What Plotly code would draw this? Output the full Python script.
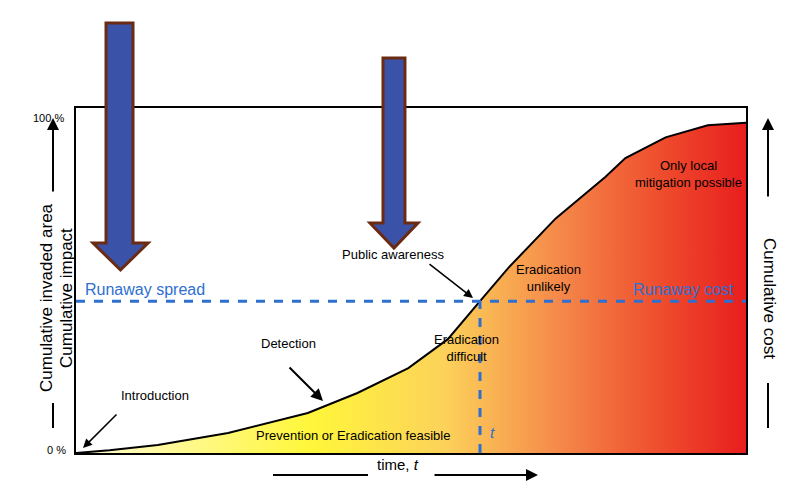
import plotly.graph_objects as go

# curve: time (0-100) vs cumulative impact (%)
time = [0, 5, 12.2, 22.7, 34.6, 42, 49.6, 55.5, 60.3, 64.5, 71.6, 79, 82, 88, 94.3, 100]
impact = [0, 0.8, 2.3, 5.8, 11.6, 17.4, 24.6, 33, 44, 53.6, 68, 80, 85.5, 91.5, 95, 95.7]
runaway_level = 44
runaway_time = 60.3

W, H = 800, 493
L, R, T, B = 68, 62, 100, 48
PW, PH = W - L - R, H - T - B


def px(x, y):
    return (x - L) / PW, (H - B - y) / PH


def path(pts):
    p = [px(x, y) for x, y in pts]
    return "M " + " L ".join(f"{a:.4f},{b:.4f}" for a, b in p) + " Z"


fig = go.Figure()
fig.add_trace(go.Scatter(
    x=time, y=impact, mode="lines", line=dict(color="black", width=2),
    fill="tozeroy",
    fillgradient=dict(type="horizontal", colorscale=[
        [0, "#fffbd8"], [0.35, "#fff63a"], [0.55, "#fcd25a"],
        [0.72, "#f5894a"], [0.88, "#ee4a2c"], [1, "#e81e1e"]]),
    hoverinfo="skip"))
fig.add_trace(go.Scatter(x=[0, 100], y=[runaway_level] * 2, mode="lines",
                         line=dict(color="#2e6fd0", width=3, dash="dash")))
fig.add_trace(go.Scatter(x=[runaway_time] * 2, y=[0, runaway_level], mode="lines",
                         line=dict(color="#2e6fd0", width=3, dash="dash")))

shapes = []
for sx0, sx1, sy0, sy1, hx0, hx1, tip in [(98, 125, 15, 235, 85, 140, 262),
                                          (375, 397, 50, 215, 362, 410, 240)]:
    cx = (hx0 + hx1) / 2
    shapes.append(dict(type="path", xref="paper", yref="paper",
                       path=path([(sx0, sy0), (sx1, sy0), (sx1, sy1), (hx1, sy1),
                                  (cx, tip), (hx0, sy1), (sx0, sy1)]),
                       fillcolor="#3a52a8", line=dict(color="#6b2a12", width=3)))
# side and bottom lines
for x0, y0, x1, y1 in [(760, 375, 760, 420), (265, 467, 360, 467), (45, 395, 45, 420)]:
    a, b = px(x0, y0)
    c, d = px(x1, y1)
    shapes.append(dict(type="line", xref="paper", yref="paper", x0=a, y0=b, x1=c, y1=d,
                       line=dict(color="black", width=2)))

anns = []


def arrow(x0, y0, x1, y1, w=2):
    a, b = px(x1, y1)
    anns.append(dict(xref="paper", yref="paper", x=a, y=b, ax=x0 - x1, ay=y0 - y1,
                     axref="pixel", ayref="pixel", showarrow=True, arrowhead=2,
                     arrowsize=1.2, arrowwidth=w, arrowcolor="black", text=""))


arrow(45, 185, 45, 110)
arrow(760, 190, 760, 110)
arrow(425, 467, 530, 467)
arrow(420, 255, 465, 290, 1.5)
arrow(280, 358, 315, 393, 2)
arrow(110, 405, 75, 440, 1.5)


def text(x, y, s, size=13, color="black", angle=0, anchor="center"):
    a, b = px(x, y)
    anns.append(dict(xref="paper", yref="paper", x=a, y=b, text=s, showarrow=False,
                     font=dict(size=size, color=color), textangle=angle, xanchor=anchor))


text(38, 290, "Cumulative invaded area", 17, angle=-90)
text(58, 290, "Cumulative impact", 17, angle=-90)
text(762, 290, "Cumulative cost", 17, angle=90)
text(40, 102, "100 %", 11)
text(48, 450, "0 %", 11)
text(390, 467, "time, <i>t</i>", 15)
text(75, 281, "Runaway spread", 16, "#2e6fd0", anchor="left")
text(675, 281, "Runaway cost", 16, "#2e6fd0")
text(385, 246, "Public awareness")
text(540, 270, "Eradication<br>unlikely")
text(458, 358, "Eradication<br>difficult")
text(280, 345, "Detection")
text(147, 397, "Introduction")
text(680, 148, "Only local<br>mitigation possible")
text(345, 437, "Prevention or Eradication feasible")
text(484, 435, "<i>t</i>", 15, "#2e6fd0")

fig.update_layout(
    width=W, height=H, margin=dict(l=L, r=R, t=T, b=B),
    plot_bgcolor="white", paper_bgcolor="white", showlegend=False,
    font=dict(family="Liberation Sans, Arial, sans-serif", color="black"),
    xaxis=dict(range=[0, 100], showgrid=False, zeroline=False, showticklabels=False,
               ticks="", showline=True, mirror=True, linecolor="black", linewidth=2),
    yaxis=dict(range=[0, 100], showgrid=False, zeroline=False, showticklabels=False,
               ticks="", showline=True, mirror=True, linecolor="black", linewidth=2),
    shapes=shapes, annotations=anns)
fig.write_html("out.html")
